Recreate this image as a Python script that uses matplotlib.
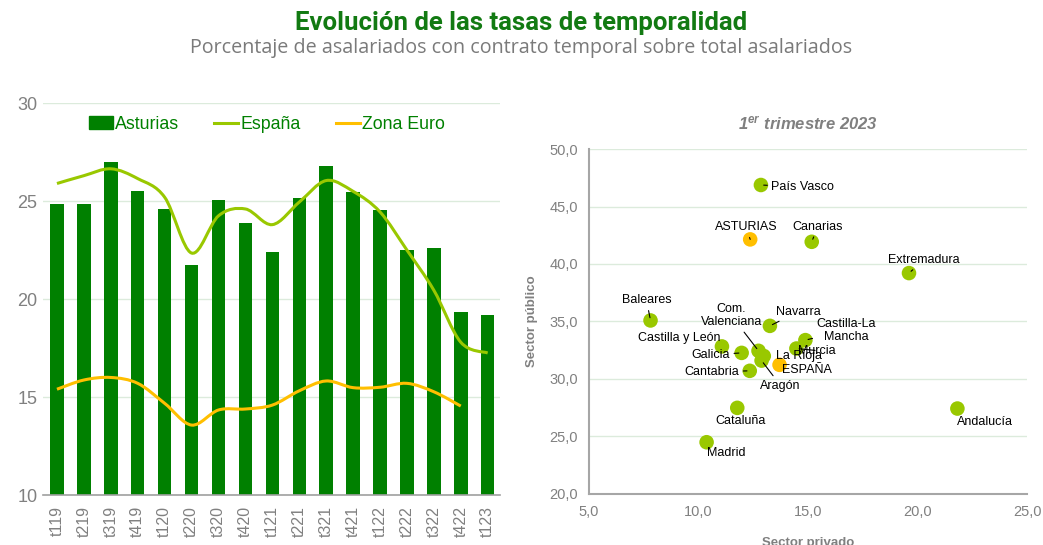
import numpy as np
import matplotlib
matplotlib.use("Agg")
import matplotlib.pyplot as plt
from matplotlib.path import Path
from matplotlib.patches import PathPatch, Patch
from matplotlib.lines import Line2D
from matplotlib.ticker import FuncFormatter

# datos serie temporal
trimestres = ["t119", "t219", "t319", "t419", "t120", "t220", "t320", "t420", "t121",
              "t221", "t321", "t421", "t122", "t222", "t322", "t422", "t123"]
asturias = [24.85, 24.85, 27.0, 25.5, 24.6, 21.75, 25.05, 23.9, 22.4,
            25.15, 26.8, 25.45, 24.55, 22.5, 22.6, 19.35, 19.2]
espana = [25.9, 26.3, 26.65, 26.15, 25.2, 22.35, 24.25, 24.6, 23.8,
          24.95, 26.05, 25.5, 24.45, 22.5, 20.45, 17.8, 17.25]
zona_euro = [15.4, 15.87, 16.0, 15.7, 14.68, 13.57, 14.34, 14.39, 14.59,
             15.32, 15.82, 15.48, 15.5, 15.7, 15.27, 14.54]

# datos dispersion 1er trimestre 2023
ccaa = ["País Vasco", "ASTURIAS", "Canarias", "Extremadura", "Baleares", "Com.\nValenciana",
        "Navarra", "Castilla-La\nMancha", "Castilla y León", "Murcia", "Galicia", "La Rioja",
        "ESPAÑA", "Cantabria", "Aragón", "Cataluña", "Andalucía", "Madrid"]
privado = [12.85, 12.36, 15.17, 19.61, 7.81, 12.74, 13.26, 14.88, 11.07, 14.47, 11.97, 12.98,
           13.7, 12.34, 12.88, 11.77, 21.82, 10.37]
publico = [46.87, 42.14, 41.93, 39.21, 35.09, 32.45, 34.62, 33.38, 32.83, 32.65, 32.27, 32.0,
           31.23, 30.71, 31.6, 27.49, 27.43, 24.5]

VERDE = "#008000"
VERDE_CLARO = "#99c800"
NARANJA = "#ffbf00"
GRIS = "#808080"
REJILLA = "#dcebdc"


def curva_suave(x, y):
    # curva tipo Excel (Catmull-Rom -> Bezier)
    p = np.column_stack([x, y]).astype(float)
    verts = [p[0]]
    codes = [Path.MOVETO]
    for i in range(len(p) - 1):
        p0 = p[i - 1] if i > 0 else p[i]
        p1, p2 = p[i], p[i + 1]
        p3 = p[i + 2] if i + 2 < len(p) else p[i + 1]
        verts += [p1 + (p2 - p0) / 6, p2 - (p3 - p1) / 6, p2]
        codes += [Path.CURVE4] * 3
    return Path(verts, codes)


plt.rcParams["font.family"] = ["Liberation Sans", "DejaVu Sans"]
plt.rcParams["mathtext.fontset"] = "custom"
plt.rcParams["mathtext.rm"] = "Liberation Sans:italic:bold"
plt.rcParams["mathtext.it"] = "Liberation Sans:italic:bold"

fig = plt.figure(figsize=(10.43, 5.45), dpi=100)

fig.text(0.5, 0.958, "Evolución de las tasas de temporalidad", ha="center", va="center",
         fontsize=18.5, fontweight="bold", color="#127a12",
         family=["Roboto", "DejaVu Sans"])
fig.text(0.5, 0.912, "Porcentaje de asalariados con contrato temporal sobre total asalariados",
         ha="center", va="center", fontsize=14.2, color="#7a7a7a",
         family=["Open Sans", "DejaVu Sans"])

# ---- grafico izquierdo
ax = fig.add_axes([0.0412, 0.0917, 0.438, 0.719])
x = np.arange(len(trimestres))
ax.bar(x, asturias, width=0.5, color=VERDE, zorder=2)
ax.add_patch(PathPatch(curva_suave(x, espana), fill=False, edgecolor=VERDE_CLARO, lw=2.2, zorder=3))
ax.add_patch(PathPatch(curva_suave(x[:len(zona_euro)], zona_euro), fill=False,
                       edgecolor=NARANJA, lw=2.2, zorder=3))
ax.set_xlim(-0.52, 16.45)
ax.set_ylim(10, 30)
ax.set_yticks([10, 15, 20, 25, 30])
ax.set_xticks(x)
ax.set_xticklabels(trimestres, rotation=90)
ax.tick_params(axis="both", length=0, colors=GRIS, labelsize=12)
ax.tick_params(axis="y", pad=4, labelsize=13)
ax.tick_params(axis="x", pad=8, labelsize=11.5)
ax.grid(axis="y", color=REJILLA, lw=1, zorder=0)
ax.set_axisbelow(True)
for s in ["top", "right", "left"]:
    ax.spines[s].set_visible(False)
ax.spines["bottom"].set_color("#a0a0a0")
ax.spines["bottom"].set_linewidth(1.2)

handles = [Patch(color=VERDE), Line2D([], [], color=VERDE_CLARO, lw=2.2),
           Line2D([], [], color=NARANJA, lw=2.2)]
leg = ax.legend(handles, ["Asturias", "España", "Zona Euro"], loc="center",
                bbox_to_anchor=(0.49, 0.946), ncol=3, frameon=False, fontsize=12.8,
                handlelength=1.35, handletextpad=0.1, columnspacing=2.0)
for t in leg.get_texts():
    t.set_color(VERDE)

# ---- grafico derecho
ax2 = fig.add_axes([0.5647, 0.0936, 0.42, 0.633])
colores = [NARANJA if n in ("ASTURIAS", "ESPAÑA") else VERDE_CLARO for n in ccaa]
ax2.scatter(privado, publico, s=110, c=colores, zorder=3, linewidths=0)
ax2.set_xlim(5, 25)
ax2.set_ylim(20, 50)
ax2.set_xticks([5, 10, 15, 20, 25])
ax2.set_yticks([20, 25, 30, 35, 40, 45, 50])
fmt = FuncFormatter(lambda v, p: f"{v:.1f}".replace(".", ","))
ax2.xaxis.set_major_formatter(fmt)
ax2.yaxis.set_major_formatter(fmt)
ax2.tick_params(axis="both", length=0, colors=GRIS, labelsize=10.5)
ax2.tick_params(axis="y", pad=8)
ax2.tick_params(axis="x", pad=8)
ax2.grid(axis="y", color=REJILLA, lw=1, zorder=0)
ax2.set_axisbelow(True)
for s in ["top", "right"]:
    ax2.spines[s].set_visible(False)
for s in ["left", "bottom"]:
    ax2.spines[s].set_color("#a6a6a6")
    ax2.spines[s].set_linewidth(1.5)
ax2.set_ylabel("Sector público", fontsize=9.5, fontweight="bold", color=GRIS, labelpad=8)
ax2.set_xlabel("Sector privado", fontsize=9.5, fontweight="bold", color=GRIS, labelpad=13)
ax2.set_title(r"$1^{er}$ trimestre 2023", fontsize=12, fontweight="bold",
              style="italic", color=GRIS, pad=14)

# posicion de etiquetas (pixeles) y si llevan linea guia
etiquetas = {
    "País Vasco": (42, -2, True), "ASTURIAS": (-4, 12, True), "Canarias": (6, 15, True),
    "Extremadura": (15, 13, True), "Baleares": (-4, 20, True), "Com.\nValenciana": (-27, 35, True),
    "Navarra": (28, 14, True), "Castilla-La\nMancha": (41, 10, True),
    "Castilla y León": (-43, 8, False), "Murcia": (20, -2, True), "Galicia": (-31, -2, True),
    "La Rioja": (35, 0, False), "ESPAÑA": (27, -5, False), "Cantabria": (-38, -1, True),
    "Aragón": (19, -25, True), "Cataluña": (3, -13, False), "Andalucía": (28, -13, False),
    "Madrid": (20, -11, False),
}
for n, px, py in zip(ccaa, privado, publico):
    dx, dy, linea = etiquetas[n]
    ap = dict(arrowstyle="-", color="black", lw=0.8, shrinkA=1, shrinkB=2) if linea else None
    ax2.annotate(n, (px, py), xytext=(dx, dy), textcoords="offset pixels", ha="center",
                 va="center", fontsize=9, color="black", arrowprops=ap, zorder=4,
                 linespacing=1.1)

fig.savefig("out.png", dpi=100)
